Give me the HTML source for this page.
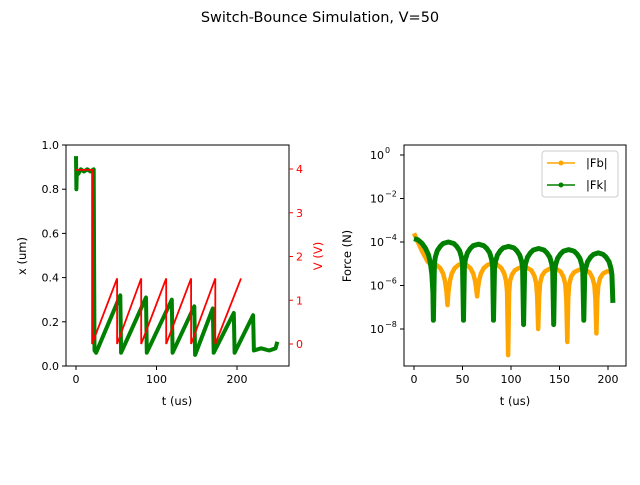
<!DOCTYPE html>
<html><head><meta charset="utf-8"><style>
body{margin:0;background:#fff}
svg{font-family:"DejaVu Sans","Liberation Sans",sans-serif}
</style></head><body>
<svg width="640" height="480" viewBox="0 0 640 480" id="fig">
<rect width="640" height="480" fill="#fff"/>
<text x="320" y="22" text-anchor="middle" font-size="14.5">Switch-Bounce Simulation, V=50</text>
<g id="left"></g>
<g id="right"></g>
</svg>
<script>
const xT=[0,0.5,1,3,6,10,14,18,22,23,25,55,56,87,88,119,120,147,148,170,171,196,197,220,221,230,240,248,250];
const xV=[0.95,0.80,0.88,0.87,0.89,0.88,0.89,0.88,0.89,0.07,0.06,0.32,0.06,0.31,0.06,0.30,0.06,0.27,0.05,0.26,0.06,0.24,0.06,0.23,0.07,0.08,0.07,0.08,0.11];
const vT=[0,20,20,51,51,81,81,112,112,143,143,173,173,205];
const vV=[3.98,3.98,0,1.5,0,1.5,0,1.5,0,1.5,0,1.5,0,1.5];
const fkT=[0,4,8,12,15,17,18.5,19.5,20,
 21,22,24,27,30,35.5,41,44,47,49,50,51,
 52,53,55,58,61,66.5,72,75,78,80,81,82,
 83,84,86,89,92,97.5,103,106,109,111,112,113,
 114,115,117,120,123,128.5,134,137,140,142,143,144,
 145,146,148,151,154,159.5,165,168,171,173,174,175,
 176,177,179,182,185,190,195,198,201,203,204,205];
const fkV=[-3.85,-3.9,-4.05,-4.3,-4.6,-5.0,-5.5,-6.3,-7.6,
 -5.0,-4.7,-4.4,-4.2,-4.07,-4.0,-4.07,-4.2,-4.4,-4.7,-5.0,-7.6,
 -5.1,-4.8,-4.5,-4.3,-4.17,-4.1,-4.17,-4.3,-4.5,-4.8,-5.1,-7.6,
 -5.2,-4.9,-4.6,-4.4,-4.27,-4.2,-4.27,-4.4,-4.6,-4.9,-5.2,-7.8,
 -5.3,-5.0,-4.7,-4.5,-4.37,-4.3,-4.37,-4.5,-4.7,-5.0,-5.3,-7.8,
 -5.35,-5.05,-4.75,-4.55,-4.42,-4.35,-4.42,-4.55,-4.75,-5.05,-5.35,-7.6,
 -5.5,-5.2,-4.9,-4.7,-4.57,-4.5,-4.57,-4.7,-4.9,-5.2,-5.5,-6.8];
const fbT=[0,3,8,14,19,23,27,30,32,33.5,34.5,35.5,37,39,42,46,50,54,58,61,63,64,65,66,67,69,72,76,81,86,90,93,95,96,97,98,99,101,104,108,112,117,121,124,126,127,128,129,130,132,135,139,143,147,151,154,156,157,158,159,160,162,165,169,173,177,181,184,186,187,188,189,190,192,195,199,203,205];
const fbV=[-3.6,-3.9,-4.4,-4.9,-5.1,-5.05,-5.2,-5.45,-5.8,-6.3,-6.9,-6.3,-5.8,-5.45,-5.2,-5.05,-5.0,-5.05,-5.2,-5.45,-5.8,-6.1,-6.5,-6.1,-5.8,-5.45,-5.2,-5.05,-5.0,-5.05,-5.2,-5.45,-5.8,-6.3,-9.2,-6.3,-5.8,-5.5,-5.3,-5.2,-5.15,-5.2,-5.3,-5.55,-5.9,-6.5,-8.0,-6.5,-5.9,-5.55,-5.35,-5.25,-5.2,-5.25,-5.35,-5.6,-5.95,-6.6,-8.6,-6.6,-5.95,-5.6,-5.4,-5.3,-5.25,-5.3,-5.4,-5.65,-6.0,-6.6,-8.2,-6.6,-6.0,-5.65,-5.45,-5.35,-5.35,-5.4];
const lxTicks=[0,100,200], lyTicks=[0,0.2,0.4,0.6,0.8,1.0], vTicks=[0,1,2,3,4];
const rxTicks=[0,50,100,150,200], ryTicks=[0,-2,-4,-6,-8];

const NS='http://www.w3.org/2000/svg';
function el(p,tag,a,txt){const e=document.createElementNS(NS,tag);for(const k in a)e.setAttribute(k,a[k]);if(txt!==undefined)e.textContent=txt;p.appendChild(e);return e;}
const L=document.getElementById('left'),R=document.getElementById('right');
const lx=t=>76+t*0.805, ly=v=>366-v*221, lv=v=>344-v*43.75;
const rx=t=>414+t*0.97, ry=l=>155-l*21.75;
function path(T,V,fx,fy){return T.map((t,i)=>(i?'L':'M')+fx(t).toFixed(1)+','+fy(V[i]).toFixed(1)).join('');}

// left
let p=el(L,'path',{d:path(xT,xV,lx,ly),fill:'none',stroke:'green','stroke-width':4,'stroke-linejoin':'round'});


p=el(L,'path',{d:path(vT,vV,lx,lv),fill:'none',stroke:'red','stroke-width':1.8});


el(L,'rect',{x:66,y:145,width:223,height:221,fill:'none',stroke:'#000','stroke-width':1});
lxTicks.forEach(t=>{el(L,'line',{x1:lx(t),x2:lx(t),y1:366,y2:370,stroke:'#000'});const e=el(L,'text',{x:lx(t),y:383,'text-anchor':'middle','font-size':11},t);});
lyTicks.forEach(v=>{el(L,'line',{x1:62,x2:66,y1:ly(v),y2:ly(v),stroke:'#000'});const e=el(L,'text',{x:59,y:ly(v)+4,'text-anchor':'end','font-size':11},v.toFixed(1));});
vTicks.forEach(v=>{el(L,'line',{x1:289,x2:293,y1:lv(v),y2:lv(v),stroke:'red'});const e=el(L,'text',{x:296,y:lv(v)+4,'font-size':11,fill:'red'},v);});
let t=el(L,'text',{x:177,y:405,'text-anchor':'middle','font-size':11.5},'t (us)');
t=el(L,'text',{x:0,y:0,'text-anchor':'middle','font-size':11.5,transform:'translate(26,256) rotate(-90)'},'x (um)');
t=el(L,'text',{x:0,y:0,'text-anchor':'middle','font-size':11.5,fill:'red',transform:'translate(322,256) rotate(-90)'},'V (V)');

// right
p=el(R,'path',{d:path(fbT,fbV,rx,ry),fill:'none',stroke:'orange','stroke-width':4.5,'stroke-linejoin':'round'});


p=el(R,'path',{d:path(fkT,fkV,rx,ry),fill:'none',stroke:'green','stroke-width':5,'stroke-linejoin':'round'});


el(R,'rect',{x:404,y:145,width:222,height:221,fill:'none',stroke:'#000'});
rxTicks.forEach(v=>{el(R,'line',{x1:rx(v),x2:rx(v),y1:366,y2:370,stroke:'#000'});const e=el(R,'text',{x:rx(v),y:383,'text-anchor':'middle','font-size':11},v);});
ryTicks.forEach(v=>{el(R,'line',{x1:400,x2:404,y1:ry(v),y2:ry(v),stroke:'#000'});const e=el(R,'text',{x:384,y:ry(v)+4,'text-anchor':'end','font-size':11},'10');el(R,'text',{x:385,y:ry(v)-2,'font-size':8},String(v).replace('-','\u2212'));});
t=el(R,'text',{x:515,y:405,'text-anchor':'middle','font-size':11.5},'t (us)');
t=el(R,'text',{x:0,y:0,'text-anchor':'middle','font-size':11.5,transform:'translate(351,256) rotate(-90)'},'Force (N)');
const lg=el(R,'g',{});
el(lg,'rect',{x:542,y:151,width:76,height:46,rx:3,fill:'#fff',stroke:'#ccc'});
[['|Fb|','orange',163],['|Fk|','green',185]].forEach(([n,c,y])=>{el(lg,'line',{x1:547,x2:575,y1:y,y2:y,stroke:c,'stroke-width':1.5});el(lg,'circle',{cx:561,cy:y,r:2.5,fill:c});const e=el(lg,'text',{x:586,y:y+4,'font-size':11.5},n);});
</script>
</body></html>
